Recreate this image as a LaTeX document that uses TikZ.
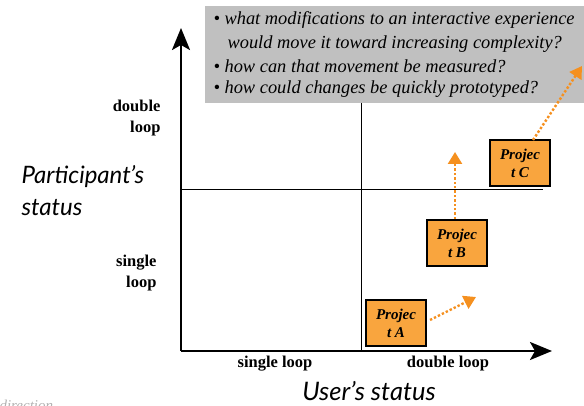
\documentclass[tikz,border=0pt]{standalone}
\usepackage{fontspec}
\setmainfont{Liberation Serif}
\newfontfamily\gillish{Lato}
\usetikzlibrary{arrows.meta}
\definecolor{projfill}{HTML}{F9A53E}
\definecolor{dotorange}{HTML}{F5901F}
\definecolor{qgray}{HTML}{C0C0C0}
\tikzset{
  proj/.style={draw=black, line width=1.6pt, fill=projfill, minimum width=60pt, minimum height=46pt, inner sep=0pt, align=center, font=\fontsize{15}{18}\selectfont\bfseries\itshape},
  axis/.style={line width=2.4pt, -{Stealth[length=22pt,width=18pt,inset=5pt]}},
  divider/.style={line width=0.8pt, black},
  move/.style={dotorange, line width=2.4pt, dotted, -{Triangle[length=12pt,width=14pt]}},
  lvl/.style={font=\fontsize{16.5}{21}\selectfont\bfseries, align=right, anchor=east},
  xlvl/.style={font=\fontsize{16.5}{19}\selectfont\bfseries},
  title/.style={font=\gillish\itshape\fontsize{24}{32}\selectfont},
  q/.style={font=\fontsize{18.4}{22.5}\selectfont\itshape, anchor=west}
}
\begin{document}
\begin{tikzpicture}[x=1pt,y=-1pt]
\useasboundingbox (0,0) rectangle (584,406);
% question box
\node[fill=qgray, minimum width=380pt, minimum height=97pt, anchor=north west, inner sep=0pt] (qbox) at (205,6) {};
\node[q] (q1) at (210,20) {\textbullet\ what modifications to an interactive experience};
\node[q] (q1b) at (224,44) {would move it toward increasing complexity?};
\node[q] (q2) at (210,66) {\textbullet\ how can that movement be measured?};
\node[q] (q3) at (210,89) {\textbullet\ how could changes be quickly prototyped?};
% axes
\coordinate (origin) at (181,351);
\coordinate (ytip) at (181,28);
\coordinate (xtip) at (552,351);
\coordinate (vtop) at (361,103);
\coordinate (vbot) at (361,351);
\coordinate (hl) at (181,189);
\coordinate (hr) at (543,189);
\draw[divider] (vtop) -- (vbot);
\draw[divider] (hl) -- (hr);
\draw[axis] (origin) -- (ytip);
\draw[axis] (origin) -- (xtip);
% labels
\node[lvl] (dl) at (164,118) {double\\loop};
\node[lvl] (sl) at (160,273) {single\\loop};
\node[xlvl] (xsl) at (275,364) {single loop};
\node[xlvl] (xdl) at (448,364) {double loop};
\node[title, align=left, anchor=west] (pstat) at (18,191) {Participant’s\\status};
\node[title, font=\gillish\itshape\fontsize{25.5}{30}\selectfont] (ustat) at (369,391) {User’s status};
\node[font=\fontsize{15}{16}\selectfont\itshape, text=black!30, anchor=west] (dir) at (-4,405) {direction};
% projects
\node[proj] (pa) at (396,323) {Projec\\t A};
\node[proj] (pb) at (457,243) {Projec\\t B};
\node[proj] (pc) at (520,163) {Projec\\t C};
\coordinate (ta) at (476,297);
\coordinate (tb) at (455,152);
\coordinate (tc) at (582,66);
\draw[move] (430,320) -- (ta);
\draw[move] (pb.north -| tb) -- (tb);
\draw[move] (533,140) -- (tc);
\end{tikzpicture}
\end{document}
